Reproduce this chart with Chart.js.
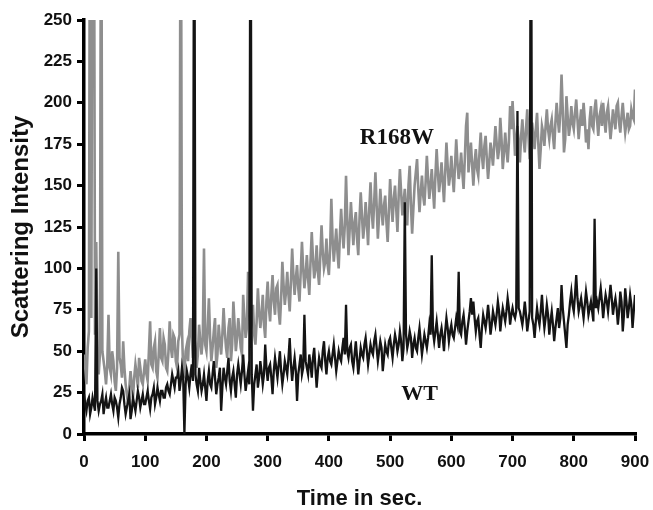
<!DOCTYPE html>
<html>
<head>
<meta charset="utf-8">
<script src="https://cdn.jsdelivr.net/npm/chart.js@4.4.1/dist/chart.umd.min.js"></script>
<style>
  html, body { margin: 0; padding: 0; background: #fff; }
  #chart { display: block; }
</style>
</head>
<body>
<canvas id="chart" width="653" height="510"></canvas>
<script>
// one reading every 2 s, 0..900 s; 400 = spike off the top of the plot
const SAMPLE_STEP_SEC = 2;

// R168W (grey trace), one row per 100 s
const R168W_VALUES = [
  48, 40, 30, 52, 62, 400, 70, 400, 400, 60, 116, 44, 36, 48, 400, 50, 44, 38, 30, 42, 72, 40, 36, 50, 44, 32, 26, 40, 110, 46, 42, 34, 56, 40, 30, 24, 18, 28, 38, 30, 22, 34, 42, 36, 28, 46, 40, 32, 30, 38,
  45, 36, 32, 50, 68, 42, 40, 52, 56, 38, 34, 48, 64, 46, 44, 58, 54, 40, 38, 50, 68, 52, 46, 60, 58, 44, 40, 56, 60, 400, 64, 38, 36, 50, 54, 44, 62, 70, 58, 46, 60, 52, 40, 48, 66, 56, 48, 58, 112, 54,
  50, 64, 82, 58, 44, 52, 62, 70, 40, 48, 66, 56, 48, 60, 76, 62, 52, 46, 64, 70, 44, 54, 80, 66, 50, 58, 70, 62, 52, 48, 84, 70, 58, 64, 98, 76, 62, 70, 78, 60, 54, 68, 88, 74, 64, 72, 84, 66, 58, 80,
  92, 76, 68, 84, 96, 80, 72, 88, 90, 74, 66, 82, 104, 90, 78, 86, 98, 84, 74, 92, 112, 96, 84, 94, 102, 88, 80, 98, 116, 100, 88, 96, 108, 94, 84, 104, 122, 106, 94, 100, 114, 98, 90, 108, 126, 110, 100, 104, 118, 102,
  96, 112, 142, 118, 104, 114, 124, 110, 100, 120, 136, 122, 112, 126, 156, 130, 108, 124, 140, 126, 114, 128, 134, 118, 108, 130, 146, 132, 118, 126, 140, 128, 114, 136, 152, 134, 124, 140, 158, 138, 118, 132, 148, 136, 126, 138, 144, 128, 116, 134,
  154, 140, 128, 142, 150, 136, 122, 144, 160, 146, 132, 140, 148, 136, 126, 150, 162, 138, 121, 136, 150, 158, 166, 148, 134, 146, 156, 144, 138, 152, 168, 154, 142, 150, 160, 148, 136, 156, 172, 158, 146, 154, 164, 152, 140, 158, 176, 162, 150, 156,
  168, 156, 146, 162, 178, 164, 154, 160, 170, 158, 148, 166, 186, 194, 158, 168, 176, 162, 150, 164, 172, 160, 156, 170, 182, 168, 160, 174, 180, 166, 154, 164, 176, 170, 162, 174, 186, 176, 166, 172, 191, 178, 160, 170, 182, 172, 164, 176, 198, 184,
  201, 186, 168, 178, 186, 176, 164, 180, 190, 178, 170, 184, 196, 180, 166, 176, 188, 180, 172, 184, 194, 176, 160, 172, 186, 182, 174, 186, 196, 184, 178, 186, 190, 180, 172, 188, 200, 190, 182, 194, 217, 196, 170, 178, 204, 192, 180, 186, 198, 188,
  184, 194, 202, 190, 178, 188, 196, 186, 200, 190, 176, 184, 172, 190, 198, 186, 184, 196, 202, 190, 180, 192, 196, 186, 200, 190, 182, 194, 198, 188, 178, 186, 196, 190, 184, 198, 200, 188, 182, 192, 200, 190, 182, 188, 194, 184, 186, 196, 192, 190,
  208,
];

// WT (black trace)
const WT_VALUES = [
  24, 18, 14, 20, 22, 12, 16, 22, 18, 14, 100, 20, 14, 18, 20, 24, 12, 18, 22, 16, 16, 20, 24, 18, 14, 22, 20, 16, 10, 18, 22, 28, 26, 18, 12, 16, 20, 24, 9, 14, 22, 18, 14, 20, 26, 22, 16, 20, 24, 18,
  18, 22, 26, 20, 15, 22, 24, 28, 18, 22, 28, 24, 20, 26, 26, 22, 22, 28, 30, 26, 24, 30, 36, 32, 28, 34, 34, 38, 26, 32, 40, 34, 0, 30, 38, 34, 28, 36, 42, 32, 400, 36, 30, 26, 40, 32, 26, 30, 36, 28,
  20, 32, 38, 30, 28, 36, 44, 34, 24, 30, 34, 40, 14, 28, 40, 34, 30, 38, 46, 32, 26, 34, 38, 30, 22, 36, 42, 36, 30, 38, 48, 36, 26, 32, 38, 30, 400, 36, 14, 30, 36, 42, 28, 34, 44, 38, 30, 36, 54, 40,
  32, 40, 42, 34, 24, 38, 46, 40, 34, 42, 50, 38, 30, 36, 44, 40, 36, 46, 58, 42, 32, 40, 46, 38, 20, 36, 42, 48, 36, 40, 72, 44, 40, 36, 48, 42, 34, 46, 52, 40, 28, 38, 46, 42, 40, 50, 56, 44, 36, 46,
  50, 44, 42, 48, 54, 46, 38, 44, 50, 46, 44, 52, 58, 48, 78, 50, 46, 52, 54, 44, 40, 48, 56, 46, 36, 44, 52, 48, 46, 54, 58, 50, 42, 48, 54, 50, 48, 56, 60, 52, 44, 50, 56, 52, 38, 46, 54, 50, 48, 56,
  58, 52, 46, 54, 60, 56, 50, 54, 62, 56, 44, 52, 140, 60, 52, 56, 62, 58, 46, 54, 58, 52, 50, 58, 64, 56, 48, 54, 60, 56, 52, 58, 66, 60, 108, 62, 56, 62, 68, 60, 52, 60, 64, 58, 50, 62, 70, 64, 56, 62,
  66, 60, 58, 64, 70, 66, 98, 62, 60, 68, 72, 64, 54, 62, 68, 74, 82, 72, 80, 70, 62, 68, 70, 60, 52, 64, 72, 68, 64, 70, 78, 70, 60, 66, 74, 70, 66, 72, 80, 74, 62, 70, 76, 72, 68, 74, 82, 76, 66, 72,
  76, 72, 70, 74, 195, 76, 74, 70, 66, 72, 80, 72, 62, 68, 74, 400, 70, 66, 58, 68, 76, 70, 66, 74, 84, 72, 64, 70, 78, 72, 60, 68, 74, 66, 56, 64, 70, 76, 64, 70, 90, 76, 68, 60, 52, 66, 72, 80, 86, 78,
  74, 84, 96, 82, 74, 78, 82, 76, 70, 78, 86, 80, 72, 76, 80, 74, 68, 130, 76, 80, 76, 82, 88, 80, 70, 78, 84, 80, 74, 82, 90, 82, 72, 78, 82, 76, 66, 74, 86, 80, 62, 72, 88, 80, 70, 76, 84, 78, 64, 74,
  84,
];

const X_TICKS = [0, 100, 200, 300, 400, 500, 600, 700, 800, 900];
const Y_TICKS = [0, 25, 50, 75, 100, 125, 150, 175, 200, 225, 250];

// series names written next to the traces, in data units
const TRACE_LABELS = [
  { text: "R168W", x: 511, y: 178.5, size: 23 },
  { text: "WT", x: 548, y: 24, size: 22 },
];

function toPoints(values) {
  return values.map((v, i) => ({ x: i * SAMPLE_STEP_SEC, y: v }));
}

const traceLabelPlugin = {
  id: "traceLabels",
  afterDatasetsDraw(chart) {
    const { ctx, scales } = chart;
    ctx.save();
    ctx.fillStyle = "#111";
    ctx.textAlign = "center";
    ctx.textBaseline = "middle";
    for (const lab of TRACE_LABELS) {
      ctx.font = `bold ${lab.size}px "Liberation Serif", "Times New Roman", serif`;
      ctx.fillText(lab.text, scales.x.getPixelForValue(lab.x), scales.y.getPixelForValue(lab.y));
    }
    ctx.restore();
  },
};

const axisFont = { family: "'Liberation Sans', Arial, sans-serif", weight: "bold" };

// keep the plot box where the reference has it, whatever the edge labels want
function pinX(scale) {
  scale.height = 76;
  scale.paddingLeft = 0;
  scale.paddingRight = 0;
}
function pinY(scale) {
  scale.width = 84;
  scale.paddingTop = 0;
  scale.paddingBottom = 0;
}

new Chart(document.getElementById("chart"), {
  type: "line",
  data: {
    datasets: [
      { label: "WT", data: toPoints(WT_VALUES), borderColor: "#141414", borderWidth: 2.3, pointRadius: 0, tension: 0 },
      { label: "R168W", data: toPoints(R168W_VALUES), borderColor: "#8e8e8e", borderWidth: 2.6, pointRadius: 0, tension: 0 },
    ],
  },
  options: {
    responsive: false,
    animation: false,
    devicePixelRatio: 1,
    layout: { padding: { left: 0, right: 18, top: 20, bottom: 0 } },
    plugins: { legend: { display: false }, tooltip: { enabled: false } },
    scales: {
      x: {
        type: "linear",
        min: 0,
        max: 900,
        afterFit: pinX,
        afterBuildTicks: (scale) => { scale.ticks = X_TICKS.map((v) => ({ value: v })); },
        border: { display: true, color: "#000", width: 3.5 },
        grid: { drawOnChartArea: false, drawTicks: true, tickLength: 7, color: "#000", lineWidth: 3 },
        ticks: { color: "#111", padding: 11, maxRotation: 0, font: { ...axisFont, size: 17 } },
        title: {
          display: true,
          text: "Time in sec.",
          color: "#111",
          font: { ...axisFont, size: 22, lineHeight: 1 },
          padding: { top: 0, bottom: 0 },
        },
      },
      y: {
        min: 0,
        max: 250,
        afterFit: pinY,
        afterBuildTicks: (scale) => { scale.ticks = Y_TICKS.map((v) => ({ value: v })); },
        border: { display: true, color: "#000", width: 3.5 },
        grid: { drawOnChartArea: false, drawTicks: true, tickLength: 7, color: "#000", lineWidth: 3 },
        ticks: { color: "#111", padding: 5, font: { ...axisFont, size: 17 } },
        title: {
          display: true,
          text: "Scattering Intensity",
          color: "#111",
          font: { ...axisFont, size: 24, lineHeight: 1 },
          padding: { top: 9, bottom: 0 },
        },
      },
    },
  },
  plugins: [traceLabelPlugin],
});
</script>
</body>
</html>
